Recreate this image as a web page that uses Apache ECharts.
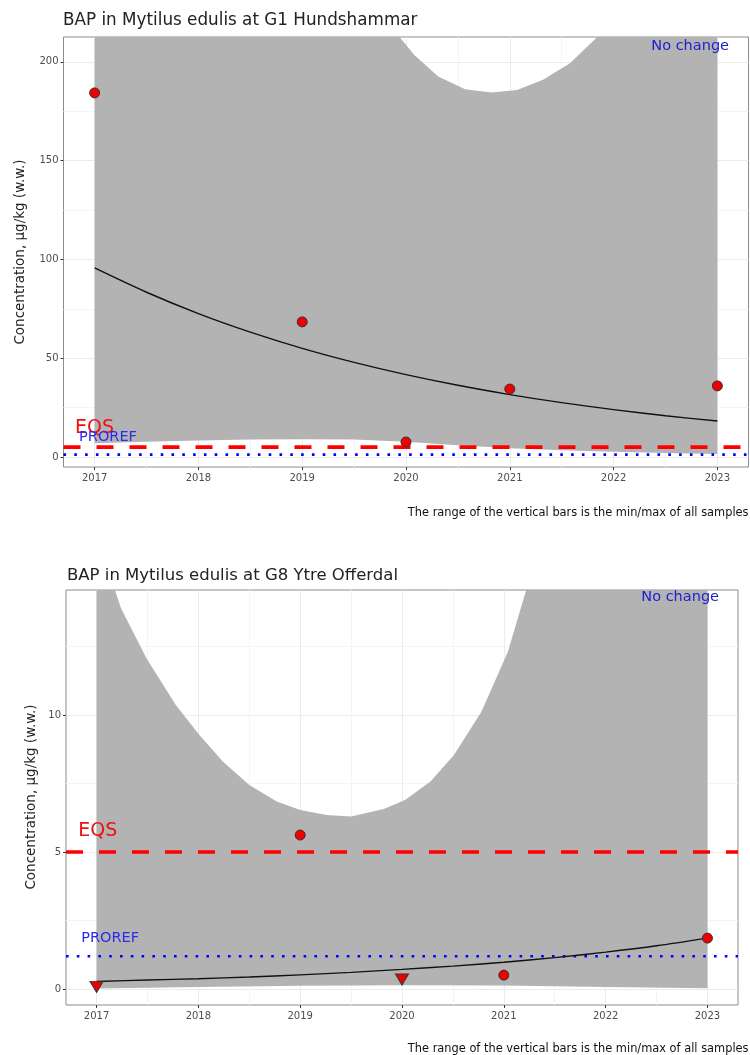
<!DOCTYPE html>
<html><head><meta charset="utf-8">
<script src="https://cdn.jsdelivr.net/npm/echarts@6/dist/echarts.min.js"></script>
<style>html,body{margin:0;padding:0;background:#fff}#c{width:750px;height:1055px}</style>
</head><body><div id="c"></div>
<script>
// ---------- data ----------
const title1 = 'BAP in Mytilus edulis at G1 Hundshammar';
const title2 = 'BAP in Mytilus edulis at G8 Ytre Offerdal';
const yTitle = 'Concentration, µg/kg (w.w.)';
const caption = 'The range of the vertical bars is the min/max of all samples';
const trendText = 'No change';

const xTicks = [2017, 2018, 2019, 2020, 2021, 2022, 2023];
const xMinor = [2016.5, 2017.5, 2018.5, 2019.5, 2020.5, 2021.5, 2022.5, 2023.5];
const yTicks1 = [0, 50, 100, 150, 200];
const yMinor1 = [25, 75, 125, 175];
const yTicks2 = [0, 5, 10];
const yMinor2 = [2.5, 7.5, 12.5];

const eqs1 = 5, proref1 = 1.2;
const eqs2 = 5, proref2 = 1.2;

// chart 1 points
const years1 = [2017, 2019, 2020, 2021, 2023];
const values1 = [184.3, 68.4, 7.6, 34.4, 36.0];
const below1 = [false, false, false, false, false];
// chart 1 trend
const trendX1 = [2017, 2017.5, 2018, 2018.5, 2019, 2019.5, 2020, 2020.5, 2021, 2021.5, 2022, 2022.5, 2023];
const trendY1 = [95.7, 83.4, 72.6, 63.2, 55.0, 47.9, 41.7, 36.3, 31.6, 27.5, 24.0, 20.9, 18.2];
// chart 1 confidence band
const upX1 = [2017, 2019.0, 2019.94, 2020.08, 2020.31, 2020.57, 2020.82, 2021.07, 2021.32, 2021.58, 2021.84, 2022.5, 2023];
const upY1 = [260, 235, 212.5, 203.5, 192.6, 186.2, 184.5, 185.8, 190.9, 199.3, 212.5, 250, 280];
const loX1 = [2017, 2017.5, 2018, 2018.5, 2019, 2019.5, 2020, 2020.5, 2021, 2021.5, 2022, 2022.5, 2023];
const loY1 = [6.9, 7.7, 8.3, 8.8, 9.0, 8.8, 7.7, 6.0, 4.4, 3.4, 2.7, 2.0, 1.5];

// chart 2 points
const years2 = [2017, 2019, 2020, 2021, 2023];
const values2 = [0.08, 5.62, 0.35, 0.51, 1.86];
const below2 = [true, false, true, false, false];
// chart 2 trend
const trendX2 = [2017, 2017.5, 2018, 2018.5, 2019, 2019.5, 2020, 2020.5, 2021, 2021.5, 2022, 2022.5, 2023];
const trendY2 = [0.28, 0.33, 0.38, 0.44, 0.52, 0.61, 0.72, 0.84, 0.98, 1.15, 1.35, 1.58, 1.86];
// chart 2 confidence band
const upX2 = [2017, 2017.18, 2017.24, 2017.49, 2017.78, 2018.01, 2018.24, 2018.5, 2018.77, 2019.0, 2019.26, 2019.5, 2019.82, 2020.03, 2020.28, 2020.51, 2020.78, 2021.04, 2021.22, 2021.5, 2022, 2023];
const upY2 = [16.5, 14.56, 13.89, 12.07, 10.36, 9.27, 8.30, 7.45, 6.84, 6.53, 6.35, 6.3, 6.57, 6.90, 7.57, 8.54, 10.12, 12.31, 14.56, 18, 25, 40];
const loX2 = [2017, 2018, 2019, 2020, 2021, 2022, 2023];
const loY2 = [0.02, 0.08, 0.12, 0.14, 0.13, 0.08, 0.03];

// ---------- layout ----------
const X_MIN = 2016.7, X_MAX = 2023.3;
const Y1_MIN = -5.06, Y1_MAX = 212.6;
const Y2_MIN = -0.58, Y2_MAX = 14.56;
const FONT = 'DejaVu Sans';

const chart = echarts.init(document.getElementById('c'), null, {renderer: 'canvas'});

function zip(a, b) { return a.map((v, i) => [v, b[i]]); }

function mainX(gi) {
  return {
    type: 'value', gridIndex: gi, min: X_MIN, max: X_MAX, position: 'bottom',
    axisLine: {show: false, onZero: false},
    axisTick: {show: true, length: 3, customValues: xTicks, lineStyle: {color: '#333', width: 1}},
    axisLabel: {customValues: xTicks, color: '#4d4d4d', fontSize: 10, fontFamily: FONT, margin: 6, formatter: v => String(v)},
    splitLine: {show: true, lineStyle: {color: '#ebebeb', width: 1}}
  };
}
function minorX(gi) {
  return {
    type: 'value', gridIndex: gi, min: X_MIN, max: X_MAX, position: 'bottom',
    axisLine: {show: false, onZero: false}, axisLabel: {show: false},
    axisTick: {show: false, customValues: xMinor},
    splitLine: {show: true, lineStyle: {color: '#f4f4f4', width: 1}}
  };
}
function mainY(gi, mn, mx, ticks) {
  return {
    type: 'value', gridIndex: gi, min: mn, max: mx, position: 'left',
    axisLine: {show: false, onZero: false},
    axisTick: {show: true, length: 3, customValues: ticks, lineStyle: {color: '#333', width: 1}},
    axisLabel: {customValues: ticks, color: '#4d4d4d', fontSize: 10, fontFamily: FONT, margin: 5, formatter: v => String(v)},
    splitLine: {show: true, lineStyle: {color: '#ebebeb', width: 1}}
  };
}
function minorY(gi, mn, mx, ticks) {
  return {
    type: 'value', gridIndex: gi, min: mn, max: mx, position: 'left',
    axisLine: {show: false, onZero: false}, axisLabel: {show: false},
    axisTick: {show: false, customValues: ticks},
    splitLine: {show: true, lineStyle: {color: '#f4f4f4', width: 1}}
  };
}

function bandSeries(xi, yi, ux, uy, lx, ly) {
  return {
    type: 'custom', xAxisIndex: xi, yAxisIndex: yi, clip: true, z: 2, silent: true,
    data: [[ux[0], uy[0]]],
    renderItem: function (params, api) {
      const pts = [];
      for (let i = 0; i < ux.length; i++) pts.push(api.coord([ux[i], uy[i]]));
      for (let i = lx.length - 1; i >= 0; i--) pts.push(api.coord([lx[i], ly[i]]));
      return {type: 'polygon', shape: {points: pts}, style: {fill: '#b3b3b3', stroke: null}};
    }
  };
}
function hLine(xi, yi, val, color, width, dash) {
  return {
    type: 'line', xAxisIndex: xi, yAxisIndex: yi, z: 3, silent: true,
    data: [[X_MIN, val], [X_MAX, val]], showSymbol: false, symbol: 'none',
    lineStyle: {color: color, width: width, type: dash, cap: 'butt'}
  };
}
function trendSeries(xi, yi, tx, ty) {
  return {
    type: 'line', xAxisIndex: xi, yAxisIndex: yi, z: 4, silent: true,
    data: zip(tx, ty), showSymbol: false, symbol: 'none', smooth: 0.3,
    lineStyle: {color: '#111', width: 1.4}
  };
}
function pointSeries(xi, yi, xs, vs, below) {
  return {
    type: 'scatter', xAxisIndex: xi, yAxisIndex: yi, z: 5, silent: true,
    data: xs.map((x, i) => ({
      value: [x, vs[i]],
      symbol: below[i] ? 'triangle' : 'circle',
      symbolSize: below[i] ? [13, 11] : 10,
      symbolRotate: below[i] ? 180 : 0
    })),
    itemStyle: {color: '#ee0000', borderColor: '#333', borderWidth: 1, opacity: 1}
  };
}

const option = {
  animation: false,
  backgroundColor: '#fff',
  grid: [
    {left: 63.5, top: 37, width: 685, height: 430, show: true, borderColor: '#8c8c8c', borderWidth: 1, backgroundColor: '#fff'},
    {left: 66, top: 590, width: 672, height: 415, show: true, borderColor: '#8c8c8c', borderWidth: 1, backgroundColor: '#fff'}
  ],
  xAxis: [mainX(0), mainX(1), minorX(0), minorX(1)],
  yAxis: [mainY(0, Y1_MIN, Y1_MAX, yTicks1), mainY(1, Y2_MIN, Y2_MAX, yTicks2), minorY(0, Y1_MIN, Y1_MAX, yMinor1), minorY(1, Y2_MIN, Y2_MAX, yMinor2)],
  series: [
    bandSeries(0, 0, upX1, upY1, loX1, loY1),
    hLine(0, 0, eqs1, '#ff0000', 3.6, [17, 16]),
    hLine(0, 0, proref1, '#0000ff', 2.6, [2.6, 8.2]),
    trendSeries(0, 0, trendX1, trendY1),
    pointSeries(0, 0, years1, values1, below1),

    bandSeries(1, 1, upX2, upY2, loX2, loY2),
    hLine(1, 1, eqs2, '#ff0000', 3.6, [17, 16]),
    hLine(1, 1, proref2, '#0000ff', 2.6, [2.6, 8.2]),
    trendSeries(1, 1, trendX2, trendY2),
    pointSeries(1, 1, years2, values2, below2)
  ]
};
chart.setOption(option);

// ---------- text annotations ----------
function px(gi, x, y) { return chart.convertToPixel({gridIndex: gi}, [x, y]); }
function txt(x, y, s, size, color, align, vAlign, extra) {
  return Object.assign({
    type: 'text', x: x, y: y, z: 100, silent: true,
    style: {text: s, fill: color, font: size + 'px "' + FONT + '"', textAlign: align, textVerticalAlign: vAlign}
  }, extra || {});
}
const g = [];
// titles
g.push(txt(63, 21, title1, 16.8, '#222', 'left', 'middle'));
g.push(txt(67, 576, title2, 16.5, '#222', 'left', 'middle'));
// y titles
g.push(txt(20, 252, yTitle, 13.5, '#222', 'center', 'middle', {rotation: Math.PI / 2}));
g.push(txt(31, 797, yTitle, 13.5, '#222', 'center', 'middle', {rotation: Math.PI / 2}));
// captions
g.push(txt(748.5, 513, caption, 11.4, '#111', 'right', 'middle'));
g.push(txt(748.5, 1049, caption, 11.4, '#111', 'right', 'middle'));
// No change
g.push(txt(729, 46, trendText, 14.5, '#2020d0', 'right', 'middle'));
g.push(txt(719, 597.5, trendText, 14.5, '#2020d0', 'right', 'middle'));
// EQS / PROREF labels
let p;
p = px(0, 2016.81, eqs1); g.push(txt(p[0], p[1] - 10, 'EQS', 19, '#ee1111', 'left', 'bottom'));
p = px(0, 2016.85, proref1); g.push(txt(p[0], p[1] - 10, 'PROREF', 14.5, '#2b2bee', 'left', 'bottom'));
p = px(1, 2016.82, eqs2); g.push(txt(p[0], p[1] - 11, 'EQS', 19, '#ee1111', 'left', 'bottom'));
p = px(1, 2016.85, proref2); g.push(txt(p[0], p[1] - 10, 'PROREF', 14.5, '#2b2bee', 'left', 'bottom'));
chart.setOption({graphic: g});
</script>
</body></html>
